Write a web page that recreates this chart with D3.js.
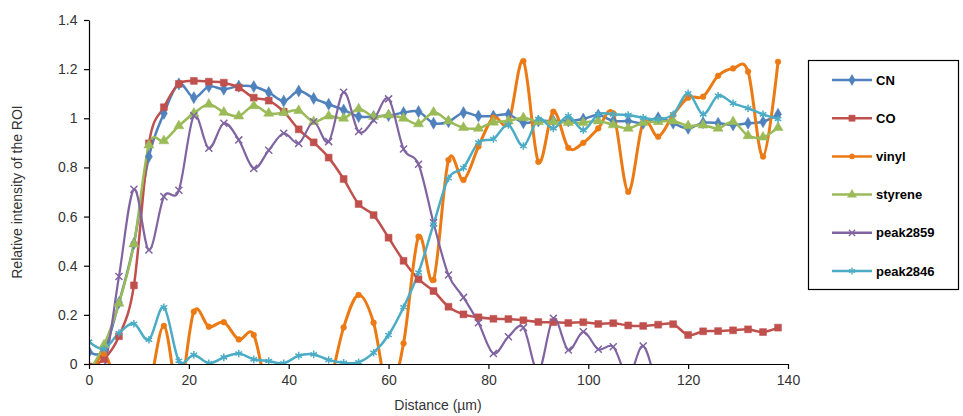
<!DOCTYPE html>
<html><head><meta charset="utf-8">
<script src="https://cdn.jsdelivr.net/npm/d3@7"></script>
<style>body{margin:0;background:#fff}svg{display:block;font-family:"Liberation Sans",Arial,sans-serif}</style>
</head><body><svg id="c" width="963" height="416"></svg>
<script>
const distance = [0,3,6,9,12,15,18,21,24,27,30,33,36,39,42,45,48,51,54,57,60,63,66,69,72,75,78,81,84,87,90,93,96,99,102,105,108,111,114,117,120,123,126,129,132,135,138];
const CN = [0.05,0.055,0.25,0.49,0.844,1.02,1.14,1.084,1.129,1.118,1.131,1.129,1.105,1.07,1.111,1.081,1.057,1.034,1.007,1.007,1.011,1.023,1.027,0.98,0.986,1.023,1.009,1.009,1.016,0.982,0.989,0.989,0.989,0.997,1.013,0.989,0.989,0.98,1.002,0.98,0.959,0.982,0.98,0.973,0.98,0.986,1.016];
const CO = [-0.01,0.02,0.113,0.32,0.898,1.045,1.14,1.152,1.149,1.145,1.125,1.084,1.072,1.027,0.955,0.902,0.84,0.753,0.651,0.606,0.514,0.42,0.345,0.297,0.233,0.202,0.19,0.184,0.183,0.178,0.171,0.17,0.167,0.17,0.163,0.166,0.157,0.155,0.16,0.162,0.118,0.133,0.134,0.137,0.141,0.13,0.148];
const vinyl = [-0.08,0.042,-0.12,-0.2,-0.1,0.155,-0.12,0.213,0.152,0.17,0.1,0.118,-0.15,-0.3,-0.3,-0.25,-0.1,0.149,0.281,0.168,-0.12,0.084,0.518,0.342,0.83,0.749,0.885,1.003,0.98,1.233,0.823,1.027,0.88,0.9,0.959,1.02,0.701,0.983,0.925,1.013,1.084,1.088,1.173,1.203,1.19,0.844,1.23];
const styrene = [-0.03,0.077,0.247,0.488,0.891,0.908,0.969,1.02,1.057,1.024,1.009,1.051,1.02,1.023,1.031,0.986,1.009,1.0,1.038,1.007,1.013,1.0,0.977,1.024,0.989,0.962,0.959,0.984,0.989,1.002,0.986,0.986,0.982,0.982,0.989,0.973,0.959,0.982,0.986,0.989,0.969,0.972,0.959,0.986,0.929,0.923,0.962];
const peak2859 = [-0.06,-0.02,0.356,0.711,0.464,0.681,0.707,1.01,0.878,0.98,0.912,0.796,0.87,0.939,0.898,0.986,0.905,1.106,0.946,0.993,1.079,0.875,0.813,0.575,0.362,0.271,0.168,0.043,0.111,0.148,-0.03,0.186,0.057,0.131,0.06,0.07,-0.05,0.073,-0.1,-0.2,-0.25,-0.25,-0.3,-0.3,-0.3,-0.3,-0.3];
const peak2846 = [0.091,0.062,0.126,0.164,0.099,0.231,0.013,0.037,0.003,0.027,0.043,0.019,0.012,0.003,0.034,0.039,0.016,0.005,0.007,0.046,0.118,0.231,0.372,0.568,0.756,0.799,0.901,0.916,0.973,0.887,0.997,0.959,1.009,0.952,1.016,1.016,1.013,1.002,0.996,1.016,1.102,1.016,1.092,1.061,1.041,1.016,0.997];
const yTicks = [0,0.2,0.4,0.6,0.8,1,1.2,1.4];
const xTicks = [0,20,40,60,80,100,120,140];
const seriesNames = ["CN","CO","vinyl","styrene","peak2859","peak2846"];

const svg = d3.select("#c");
const L=89,R=788,T=20,B=364;
const x = d3.scaleLinear().domain([0,140]).range([L,R]);
const y = d3.scaleLinear().domain([0,1.4]).range([B,T]);

const series = [
  {name:"CN", values:CN, color:"#4F81BD", sym:d3.symbolDiamond, size:42, fill:true, lw:2.5},
  {name:"CO", values:CO, color:"#C0504D", sym:d3.symbolSquare, size:48, fill:true, lw:2.5},
  {name:"vinyl", values:vinyl, color:"#EC7A14", sym:d3.symbolCircle, size:26, fill:true, lw:3},
  {name:"styrene", values:styrene, color:"#9BBB59", sym:d3.symbolTriangle, size:44, fill:true, lw:2.5},
  {name:"peak2859", values:peak2859, color:"#8064A2", sym:d3.symbolTimes, size:34, fill:false, lw:2.2},
  {name:"peak2846", values:peak2846, color:"#4BACC6", sym:d3.symbolAsterisk, size:40, fill:false, lw:2.5}
];

svg.append("defs").append("clipPath").attr("id","clip")
  .append("rect").attr("x",L).attr("y",T-10).attr("width",R-L+10).attr("height",B-T+10);

const g = svg.append("g");
const plot = g.append("g").attr("clip-path","url(#clip)");
const line = d3.line().x((d,i)=>x(distance[i])).y(d=>y(d)).curve(d3.curveCardinal.tension(0));

series.forEach(s=>{
  plot.append("path").attr("d",line(s.values)).attr("fill","none")
    .attr("stroke",s.color).attr("stroke-width",s.lw).attr("stroke-linejoin","round");
});
series.forEach(s=>{
  const sym = d3.symbol().type(s.sym).size(s.size);
  plot.append("g").selectAll("path").data(s.values).join("path")
    .attr("transform",(d,i)=>`translate(${x(distance[i])},${y(d)})`)
    .attr("d",sym)
    .attr("fill",s.fill?s.color:"none")
    .attr("stroke",s.color).attr("stroke-width",s.fill?0.5:1.5);
});

// axes
const ax = g.append("g").attr("transform",`translate(0,${B})`)
  .call(d3.axisBottom(x).tickValues(xTicks).tickSize(5).tickSizeOuter(0).tickFormat(d3.format("d")));
const ay = g.append("g").attr("transform",`translate(${L},0)`)
  .call(d3.axisLeft(y).tickValues(yTicks).tickSize(5).tickSizeOuter(0).tickFormat(d=>d3.format("")(+d.toFixed(1))));
[ax,ay].forEach(a=>{
  a.select(".domain").attr("stroke","#000").attr("stroke-width",1.2);
  a.selectAll(".tick line").attr("stroke","#000").attr("stroke-width",1.2);
  a.selectAll(".tick text").attr("fill","#333").style("font-size","14px");
});
ax.selectAll(".tick text").attr("dy","0.95em");
ay.selectAll(".tick text").attr("dx","-0.25em");

svg.append("text").attr("x",438).attr("y",410).attr("text-anchor","middle")
  .attr("fill","#333").style("font-size","14px").text("Distance (µm)");
svg.append("text").attr("transform","translate(22,192) rotate(-90)").attr("text-anchor","middle")
  .attr("fill","#333").style("font-size","14px").text("Relative intensity of the ROI");

// legend
const lg = svg.append("g");
lg.append("rect").attr("x",808.5).attr("y",60.5).attr("width",150).attr("height",229)
  .attr("fill","#fff").attr("stroke","#000").attr("stroke-width",1.2);
series.forEach((s,i)=>{
  const yy = 80 + i*38.2;
  lg.append("line").attr("x1",832).attr("x2",872).attr("y1",yy).attr("y2",yy)
    .attr("stroke",s.color).attr("stroke-width",2.5);
  lg.append("path").attr("transform",`translate(852,${yy})`)
    .attr("d",d3.symbol().type(s.sym).size(s.size*0.8))
    .attr("fill",s.fill?s.color:"none").attr("stroke",s.color).attr("stroke-width",s.fill?0.5:1.3);
  lg.append("text").attr("x",876).attr("y",yy).attr("dy","0.35em")
    .style("font-size","13px").style("font-weight","bold").attr("fill","#000").text(seriesNames[i]);
});
</script></body></html>
